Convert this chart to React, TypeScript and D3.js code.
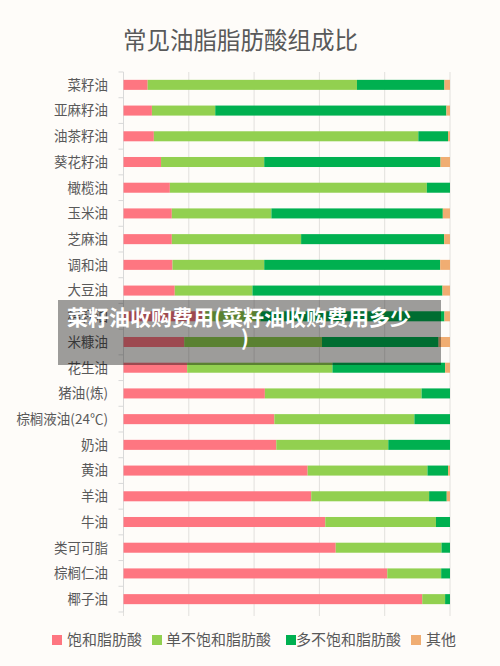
import React from "react";
import * as d3 from "d3";

const categories = [
  "菜籽油", "亚麻籽油", "油茶籽油", "葵花籽油", "橄榄油", "玉米油", "芝麻油",
  "调和油", "大豆油", "棉籽油", "米糠油", "花生油", "猪油(炼)", "棕榈液油(24℃)",
  "奶油", "黄油", "羊油", "牛油", "类可可脂", "棕榈仁油", "椰子油",
];
const saturated = [7.4, 8.7, 9.3, 11.5, 14.2, 14.8, 14.8, 15.0, 15.7, 25.0, 18.6, 19.5, 43.3, 46.2, 46.8, 56.4, 57.5, 61.8, 65.0, 80.8, 91.5];
const monounsat = [64.1, 19.4, 81.0, 31.6, 78.7, 30.5, 39.6, 28.1, 23.8, 17.0, 42.2, 44.5, 48.0, 42.9, 34.3, 36.7, 36.1, 33.9, 32.4, 16.5, 7.0];
const polyunsat = [26.8, 70.8, 9.1, 54.0, 7.1, 52.5, 43.8, 53.9, 58.2, 56.3, 35.7, 34.5, 8.7, 10.9, 18.9, 6.3, 5.4, 4.3, 2.6, 2.7, 1.5];
const others = [1.7, 1.1, 0.6, 2.9, 0.0, 2.2, 1.8, 3.0, 2.3, 1.7, 3.5, 1.5, 0.0, 0.0, 0.0, 0.6, 1.0, 0.0, 0.0, 0.0, 0.0];
const seriesNames = ["饱和脂肪酸", "单不饱和脂肪酸", "多不饱和脂肪酸", "其他"];
const seriesColors = ["#fe7681", "#92d050", "#00b050", "#f0ad72"];
const xTicks = [0, 20, 40, 60, 80, 100];
const title = "常见油脂脂肪酸组成比";
const overlayLine1 = "菜籽油收购费用(菜籽油收购费用多少";
const overlayLine2 = ")";

const FONT = "'Noto Sans CJK SC', 'Noto Sans', sans-serif";

export default function App() {
  const W = 500, H = 666;
  const left = 123.5, right = 450, top = 72, bottom = 612;
  const x = d3.scaleLinear().domain([0, 100]).range([left, right]);
  const y = d3.scaleBand<string>().domain(categories).range([top, bottom]).paddingInner(0.61).paddingOuter(0.305);

  const rows = categories.map((c, i) => ({
    cat: c,
    vals: [saturated[i], monounsat[i], polyunsat[i], others[i]],
  }));
  const stack = d3.stack<any, number>().keys([0, 1, 2, 3]).value((d: any, k: number) => d.vals[k]);
  const stacked = stack(rows as any);

  const legendItems = [
    { sx: 52, tx: 67 },
    { sx: 152, tx: 166 },
    { sx: 286, tx: 296 },
    { sx: 411, tx: 426 },
  ];
  const bandStep = (bottom - top) / categories.length;

  return (
    <svg width={W} height={H} style={{ position: "absolute", left: 0, top: 0, display: "block" }} fontFamily={FONT}>
      <rect x={0} y={0} width={W} height={H} fill="#fefcf9" />
      <text x={123} y={49} fontSize={23.5} fill="#595959">{title}</text>
      {xTicks.map((t) => (
        <line key={t} x1={x(t)} x2={x(t)} y1={top} y2={bottom + 4} stroke="#e2e0dd" strokeWidth={1} />
      ))}
      <line x1={left} x2={left} y1={top} y2={bottom} stroke="#d9d9d9" />
      {d3.range(categories.length + 1).map((i) => (
        <line key={i} x1={left - 5} x2={left} y1={top + i * bandStep} y2={top + i * bandStep} stroke="#d9d9d9" />
      ))}
      {categories.map((c) => (
        <text key={c} x={108} y={(y(c) as number) + y.bandwidth() / 2} dy="0.36em" textAnchor="end" fontSize={13.5} fill="#595959">{c}</text>
      ))}
      {stacked.map((s, si) => (
        <g key={si} fill={seriesColors[si]}>
          {s.map((d: any, di: number) => (
            <rect key={di} x={x(d[0])} y={y(categories[di]) as number} width={Math.max(0, x(d[1]) - x(d[0]))} height={y.bandwidth()} />
          ))}
        </g>
      ))}
      {seriesNames.map((n, i) => (
        <g key={n}>
          <rect x={legendItems[i].sx} y={635} width={10} height={10} fill={seriesColors[i]} />
          <text x={legendItems[i].tx} y={640} dy="0.36em" fontSize={15} fill="#595959">{n}</text>
        </g>
      ))}
      <rect x={58} y={300} width={383} height={65} fill="#000" fillOpacity={0.38} />
      <text x={239} y={325} textAnchor="middle" fontSize={21} fontWeight="bold" fill="#fff">{overlayLine1}</text>
      <text x={245} y={346} textAnchor="middle" fontSize={21} fontWeight="bold" fill="#fff">{overlayLine2}</text>
    </svg>
  );
}
